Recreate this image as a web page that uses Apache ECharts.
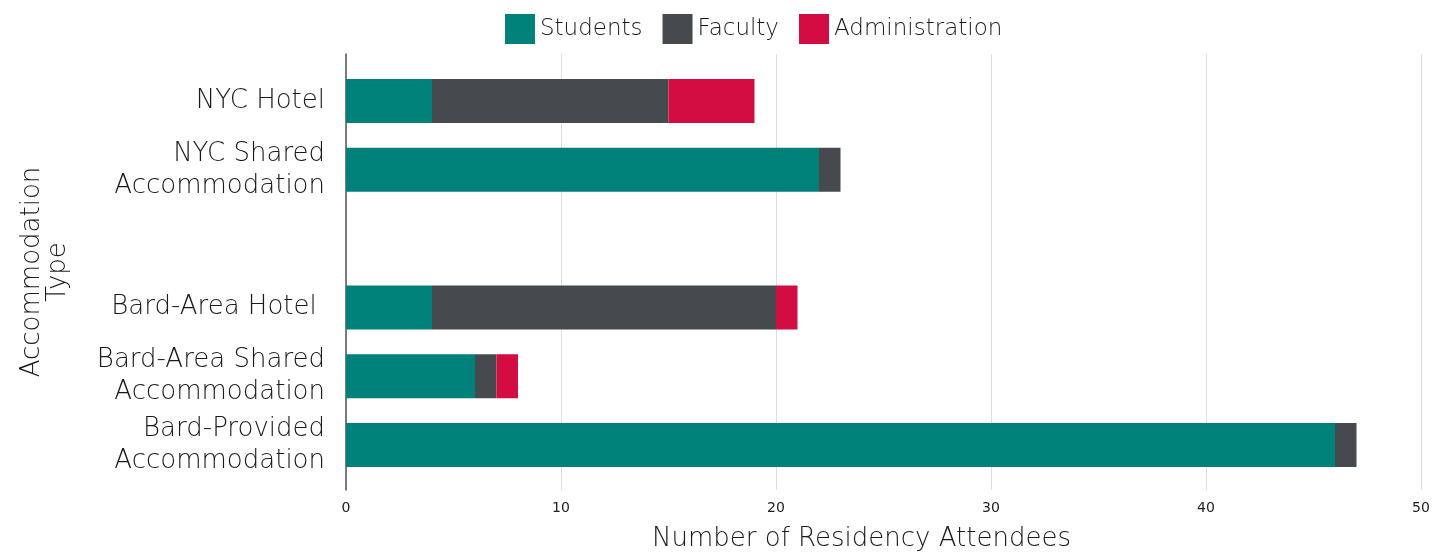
<!DOCTYPE html>
<html>
<head>
<meta charset="utf-8">
<script src="https://cdn.jsdelivr.net/npm/echarts@6/dist/echarts.min.js"></script>
<style>
  html, body { margin: 0; padding: 0; background: #fff; }
  #chart { width: 1446px; height: 552px; }
</style>
</head>
<body>
<div id="chart"></div>
<script>
const categories = [
  'NYC Hotel',
  'NYC Shared\nAccommodation',
  '',
  'Bard-Area Hotel ',
  'Bard-Area Shared\nAccommodation',
  'Bard-Provided\nAccommodation'
]
const students = [4, 22, null, 4, 6, 46]
const faculty = [11, 1, null, 16, 1, 1]
const administration = [4, null, null, 1, 1, null]
const xTicks = [0, 10, 20, 30, 40, 50]

const FONT = '"DejaVu Sans", sans-serif'
const colors = { students: '#00817a', faculty: '#464a4e', admin: '#d30c41' }

const chart = echarts.init(document.getElementById('chart'))

const barSeries = (name, data, color) => ({
  name,
  type: 'bar',
  stack: 'total',
  xAxisIndex: 1,
  yAxisIndex: 1,
  data,
  barCategoryGap: '36%',
  itemStyle: { color },
  emphasis: { disabled: true }
})

chart.setOption({
  animation: false,
  textStyle: { fontFamily: FONT },
  legend: {
    top: 14,
    left: 505,
    padding: 0,
    itemWidth: 30,
    itemHeight: 30,
    itemGap: 20,
    icon: 'rect',
    textStyle: { fontSize: 23, fontWeight: 200, color: '#1a1a1a', fontFamily: FONT },
    data: ['Students', 'Faculty', 'Administration']
  },
  grid: [
    // background grid: gridlines, zero line, tick labels
    { left: 346, right: 25, top: 54, bottom: 62, outerBoundsMode: 'none' },
    // bar grid: category bands
    { left: 346, right: 25, top: 66.5, bottom: 72.5, outerBoundsMode: 'none' }
  ],
  xAxis: [
    {
      gridIndex: 0,
      type: 'value',
      min: xTicks[0],
      max: xTicks[xTicks.length - 1],
      interval: 10,
      axisLine: { show: false },
      axisTick: { show: false },
      splitLine: { show: true, lineStyle: { color: '#dedede', width: 1 } },
      axisLabel: { fontSize: 14, color: '#222', margin: 11, fontFamily: FONT },
      name: 'Number of Residency Attendees',
      nameLocation: 'middle',
      nameGap: 36,
      nameTextStyle: { fontSize: 26, fontWeight: 200, color: '#1a1a1a', padding: [0, 44, 0, 0] }
    },
    {
      gridIndex: 1,
      type: 'value',
      min: xTicks[0],
      max: xTicks[xTicks.length - 1],
      show: false
    }
  ],
  yAxis: [
    {
      gridIndex: 0,
      type: 'value',
      axisLine: { show: true, lineStyle: { color: '#555', width: 1.5 } },
      axisTick: { show: false },
      axisLabel: { show: false },
      splitLine: { show: false },
      name: 'Accommodation\nType',
      nameLocation: 'middle',
      nameRotate: 90,
      nameGap: 275,
      nameTextStyle: { fontSize: 26, fontWeight: 200, color: '#1a1a1a', lineHeight: 26 }
    },
    {
      gridIndex: 1,
      type: 'category',
      inverse: true,
      data: categories,
      axisLine: { show: false },
      axisTick: { show: false },
      axisLabel: {
        fontSize: 26,
        fontWeight: 200,
        color: '#1a1a1a',
        lineHeight: 32,
        margin: 21,
        align: 'right',
        fontFamily: FONT
      }
    }
  ],
  series: [
    barSeries('Students', students, colors.students),
    barSeries('Faculty', faculty, colors.faculty),
    barSeries('Administration', administration, colors.admin)
  ]
})
</script>
</body>
</html>
